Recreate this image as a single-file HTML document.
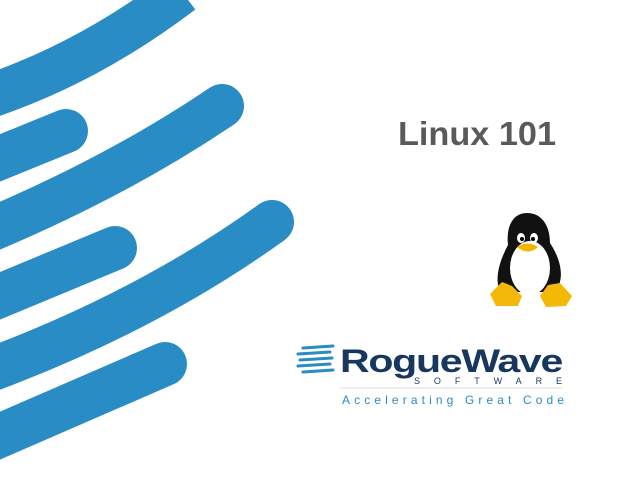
<!DOCTYPE html>
<html><head><style>
html,body{margin:0;padding:0;width:640px;height:480px;background:#fff;overflow:hidden}
</style></head><body>
<svg width="640" height="480" viewBox="0 0 640 480" xmlns="http://www.w3.org/2000/svg">
<g fill="none" stroke="#2a8cc4" stroke-width="44">
<path d="M-10 96 Q90 62 182 -8"/>
<path d="M-10 162 L66 131" stroke-linecap="round"/>
<path d="M-10 230 Q120 175 222 106" stroke-linecap="round"/>
<path d="M-10 300 L115 248" stroke-linecap="round"/>
<path d="M-10 370 Q150 310 272 222" stroke-linecap="round"/>
<path d="M-10 440 L165 364" stroke-linecap="round"/>
</g>
<text x="398" y="145" font-family="Liberation Sans, sans-serif" font-size="33" font-weight="bold" fill="#5a5a5a" textLength="158" lengthAdjust="spacingAndGlyphs">Linux 101</text>
<g>
<path d="M527 213 C512 213 506 228 508 245 C500 260 494 278 500 292 L555 292 C566 278 560 258 550 243 C550 226 542 213 527 213Z" fill="#111"/>
<ellipse cx="530" cy="268" rx="20" ry="27" fill="#fff"/>
<ellipse cx="521" cy="238" rx="4" ry="5" fill="#fff"/>
<ellipse cx="534" cy="238" rx="4" ry="5" fill="#fff"/>
<circle cx="522" cy="239" r="2" fill="#000"/><circle cx="533" cy="239" r="2" fill="#000"/>
<path d="M517 247 Q527 240 538 247 Q528 256 517 247Z" fill="#f2b500"/>
<path d="M490 294 L502 282 L512 286 L522 296 L518 306 L496 306Z" fill="#f3b808"/>
<path d="M572 296 L560 283 L548 285 L540 296 L546 307 L566 306Z" fill="#f3b808"/>
</g>
<g stroke="#2a8cc4" stroke-width="3" stroke-linecap="round">
<line x1="303" y1="348" x2="333" y2="346"/>
<line x1="298" y1="354" x2="330" y2="352"/>
<line x1="300" y1="360" x2="332" y2="358"/>
<line x1="298" y1="366" x2="330" y2="364"/>
<line x1="303" y1="372" x2="333" y2="370"/>
</g>
<text x="340" y="372" font-family="Liberation Sans, sans-serif" font-size="32" font-weight="bold" fill="#17375e" letter-spacing="-1" textLength="222" lengthAdjust="spacingAndGlyphs">RogueWave</text>
<text x="414" y="384" font-family="Liberation Sans, sans-serif" font-size="9" fill="#17375e" textLength="148" lengthAdjust="spacing">SOFTWARE</text>
<line x1="340" y1="388" x2="562" y2="388" stroke="#ddd" stroke-width="1"/>
<text x="342" y="404" font-family="Liberation Sans, sans-serif" font-size="12" fill="#2a8cc4" textLength="222" lengthAdjust="spacing">Accelerating Great Code</text>
</svg>
</body></html>
